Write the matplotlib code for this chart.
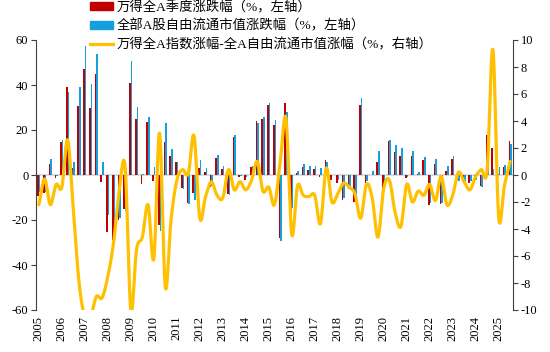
import numpy as np
import matplotlib
matplotlib.use("Agg")
from matplotlib import pyplot as plt
from matplotlib.patches import Patch
from matplotlib.lines import Line2D

plt.rcParams["font.family"] = ["Liberation Serif", "Noto Sans CJK SC"]
plt.rcParams["axes.unicode_minus"] = False

# quarterly data, 2005Q1 .. 2025Q3
years = [str(y) for y in range(2005, 2026)]

# 万得全A季度涨跌幅 (%)
wind_all_a = [
    -9.5, -8.0, 5.0, -1.2, 14.5, 39.3, 3.0, 30.8, 47.0, 29.9,
    45.0, -3.0, -25.2, -28.9, -20.0, -15.3, 40.7, 24.9, -4.0, 23.5,
    -2.5, -22.0, 14.7, 8.4, 5.6, -5.9, -12.6, -8.0, 3.3, 1.5,
    -5.2, 7.5, 2.5, -8.3, 16.8, -0.8, -2.0, 3.7, 24.1, 24.7,
    31.1, 22.3, -28.2, 32.1, -19.2, 1.0, 3.4, 2.2, 2.5, -0.7,
    6.5, -2.2, -3.5, -11.0, -6.0, -12.0, 31.1, -3.5, 0.0, 5.9,
    -6.4, 15.3, 10.4, 8.4, -1.5, 8.6, 0.3, 6.7, -13.3, 5.0,
    -12.7, 1.8, 7.0, -2.3, -3.0, -3.7, -2.2, -4.8, 18.0, 12.0,
    0.3, 3.7, 15.0,
]

# 全部A股自由流通市值涨跌幅 (%)
free_float = [
    -7.5, -7.7, 7.3, -0.4, 15.4, 36.8, 5.6, 39.0, 57.5, 40.3,
    54.0, 6.0, -17.7, -23.9, -19.0, -15.9, 50.8, 30.4, 0.6, 25.7,
    3.7, -25.1, 23.0, 11.7, 6.0, -6.3, -12.7, -10.9, 6.5, 3.1,
    -4.7, 9.0, 4.2, -8.7, 17.9, -0.3, -0.9, 4.1, 23.1, 25.9,
    32.0, 24.5, -29.2, 27.9, -14.8, 1.8, 4.9, 3.8, 4.0, 2.9,
    6.0, -0.2, -2.1, -10.4, -5.1, -10.6, 34.3, -2.8, 1.7, 10.5,
    -5.4, 15.7, 13.2, 12.2, -0.8, 10.6, 1.5, 8.2, -12.6, 6.9,
    -12.6, 4.0, 8.5, -2.5, -2.5, -2.6, -2.1, -5.2, 17.6, 2.7,
    3.4, 4.5, 14.0,
]

# 万得全A指数涨幅-全A自由流通市值涨幅 (%, right axis)
spread = [
    -2.2, -0.3, -2.2, -0.7, -0.9, 2.6, -2.6, -8.0, -10.5, -10.5,
    -9.0, -9.1, -7.5, -5.0, -1.1, 0.6, -10.0, -5.5, -4.6, -2.2,
    -6.2, 3.1, -8.3, -3.3, -0.4, 0.4, 0.1, 2.9, -3.2, -1.6,
    -0.5, -1.5, -1.7, 0.4, -1.1, -0.5, -1.1, -0.4, 1.0, -1.2,
    -0.9, -2.2, 1.0, 4.2, -4.4, -0.8, -1.5, -1.6, -1.5, -3.6,
    0.5, -2.0, -1.4, -0.6, -0.9, -1.4, -3.2, -0.7, -1.7, -4.6,
    -1.0, -0.4, -2.8, -3.8, -0.7, -2.0, -1.2, -1.5, -0.7, -1.9,
    -0.1, -2.2, -1.5, 0.2, -0.5, -1.1, -0.1, 0.4, 0.4, 9.3,
    -3.1, -0.8, 1.0,
]

RED = "#C00000"
BLUE = "#14A0DC"
YELLOW = "#FFC000"


def smooth(x, y, n=16):
    # catmull-rom, close to the excel "smoothed line"
    x = np.asarray(x, float)
    y = np.asarray(y, float)
    px = np.concatenate([[2 * x[0] - x[1]], x, [2 * x[-1] - x[-2]]])
    py = np.concatenate([[2 * y[0] - y[1]], y, [2 * y[-1] - y[-2]]])
    t = np.linspace(0, 1, n, endpoint=False)
    xs, ys = [], []
    for k in range(1, len(px) - 2):
        for arr, out in ((px, xs), (py, ys)):
            p0, p1, p2, p3 = arr[k - 1:k + 3]
            out.extend(0.5 * (2 * p1 + (-p0 + p2) * t
                              + (2 * p0 - 5 * p1 + 4 * p2 - p3) * t ** 2
                              + (-p0 + 3 * p1 - 3 * p2 + p3) * t ** 3))
    xs.append(x[-1])
    ys.append(y[-1])
    return np.array(xs), np.array(ys)


n = len(wind_all_a)
idx = np.arange(n)

fig = plt.figure(figsize=(5.5, 3.52), dpi=100)
ax = fig.add_axes([36 / 550, 1 - 310 / 352, 477 / 550, 270 / 352])

ax.axhline(0, color="#D9D9D9", lw=1.3, zorder=1)
ax.bar(idx - 0.14, wind_all_a, width=0.28, color=RED, zorder=2)
ax.bar(idx + 0.14, free_float, width=0.28, color=BLUE, zorder=2)

ax.set_xlim(-0.5, n - 0.5)
ax.set_ylim(-60, 60)
ax.set_yticks(range(-60, 61, 20))
ax.set_xticks(range(0, n, 4))
ax.set_xticklabels(years, rotation=90)
ax.tick_params(axis="x", length=0, pad=4, labelsize=9)
ax.tick_params(axis="y", direction="out", length=3.5, width=0.8,
               color="#404040", labelsize=9, pad=2)
for s in ("top", "right", "bottom"):
    ax.spines[s].set_visible(False)
ax.spines["left"].set_color("#404040")
ax.spines["left"].set_linewidth(0.8)

ax2 = ax.twinx()
sx, sy = smooth(idx, spread)
ax2.plot(sx, sy, color=YELLOW, lw=2.3, solid_capstyle="round", zorder=3)
ax2.set_ylim(-10, 10)
ax2.set_yticks(range(-10, 11, 2))
ax2.tick_params(axis="y", direction="out", length=3.5, width=0.8,
                color="#404040", labelsize=9, pad=2)
for s in ("top", "left", "bottom"):
    ax2.spines[s].set_visible(False)
ax2.spines["right"].set_color("#404040")
ax2.spines["right"].set_linewidth(0.8)

handles = [
    Patch(color=RED),
    Patch(color=BLUE),
    Line2D([], [], color=YELLOW, lw=2.3),
]
labels = [
    "万得全A季度涨跌幅（%，左轴）",
    "全部A股自由流通市值涨跌幅（%，左轴）",
    "万得全A指数涨幅-全A自由流通市值涨幅（%，右轴）",
]
fig.legend(handles, labels, loc="upper left", bbox_to_anchor=(0.163, 1.0),
           frameon=False, fontsize=9.6, handlelength=1.7, handleheight=0.55,
           handletextpad=0.3, labelspacing=0.42, borderaxespad=0, borderpad=0.05)

fig.savefig("out.png", dpi=100)
